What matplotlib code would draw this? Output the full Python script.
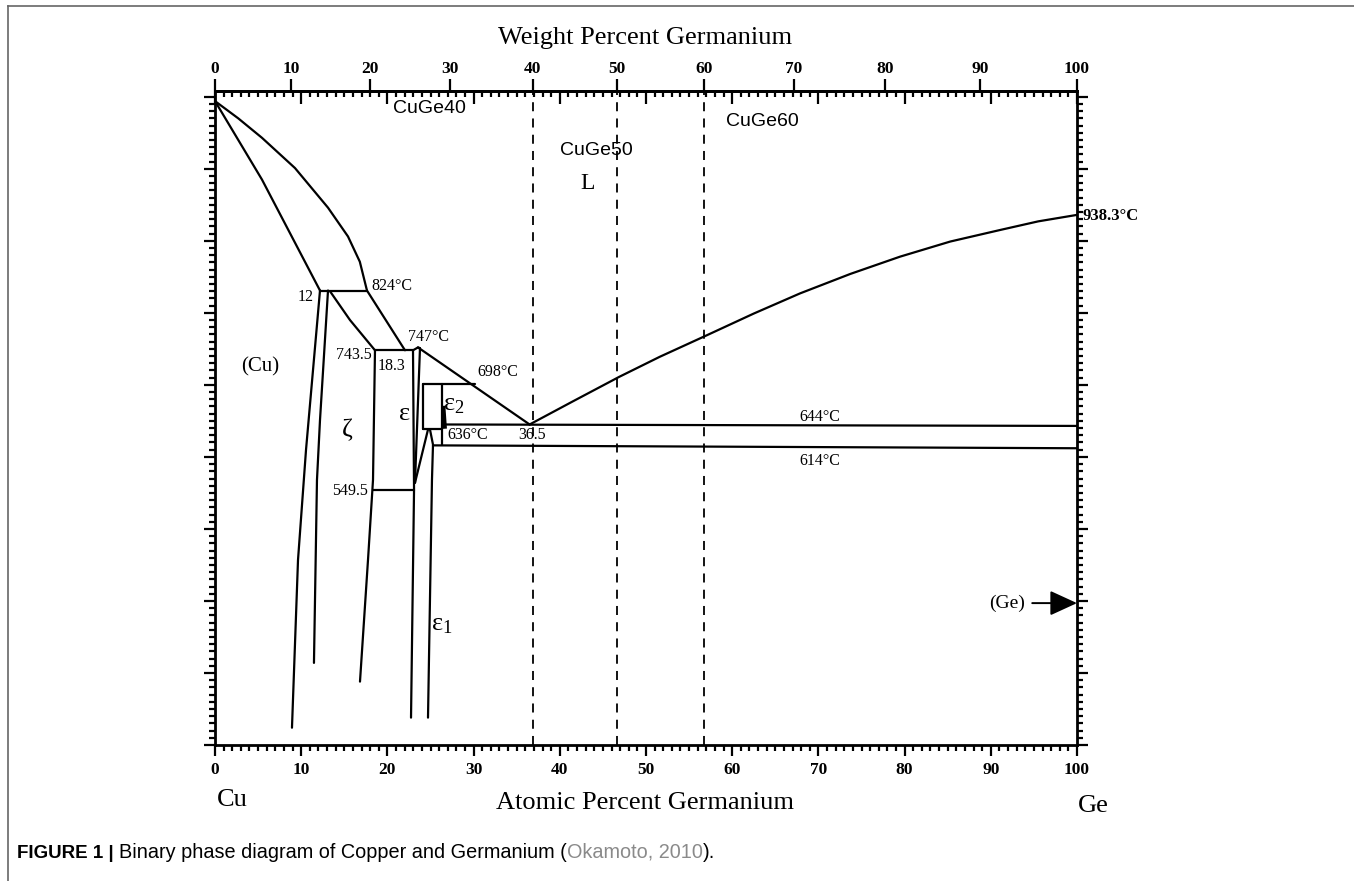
import numpy as np
import matplotlib.pyplot as plt
from matplotlib.ticker import MultipleLocator

plt.rcParams['font.family'] = ['Liberation Serif', 'DejaVu Serif']

# --- molar masses for the at.% <-> wt.% top scale ---
M_CU, M_GE = 63.546, 72.63

# --- phase boundaries: x = at.% Ge, t = deg C ---
liq_cu_x = [0, 2.7, 5.45, 9.28, 13.11, 15.43, 16.8, 17.63]
liq_cu_t = [1094, 1070, 1043, 1001, 946, 906, 871, 831]
sol_cu_x = [0, 5.45, 12.18]
sol_cu_t = [1094, 985, 831]
per824_x = [12.18, 17.63]
per824_t = [831, 831]
liq_mid_x = [17.63, 22.04]
liq_mid_t = [831, 748]
cu_solvus_x = [12.18, 10.56, 9.63, 8.93]
cu_solvus_t = [831, 610, 457, 224]
zeta_left_x = [13.11, 12.18, 11.83, 11.48]
zeta_left_t = [831, 651, 568, 314]
zeta_top_x = [13.34, 15.66, 18.56]
zeta_top_t = [830, 790, 748]
zeta_right_x = [18.56, 18.33, 17.75, 16.82]
zeta_right_t = [748, 568, 457, 288]
per743_x = [18.56, 22.97]
per743_t = [748, 748]
eps_cap_x = [22.97, 23.55, 23.78]
eps_cap_t = [748, 752, 751]
eps_left_x = [22.97, 23.09, 22.74]
eps_left_t = [748, 554, 238]
eps_right_x = [23.78, 23.2]
eps_right_t = [751, 564]
eps1_left_x = [23.2, 24.71]
eps1_left_t = [564, 638]
eps1_right_x = [24.94, 25.29, 25.17, 24.71]
eps1_right_t = [638, 617, 568, 238]
eut_liq_x = [23.55, 36.5]
eut_liq_t = [752, 645]
ge_liq_x = [36.5, 41.5, 46.87, 51.6, 57.08, 62.5, 67.87, 73.7, 79.47, 85.3, 91.07, 95.5, 100]
ge_liq_t = [645, 677, 711, 739, 769, 799, 827, 854, 878, 899, 915, 927, 936]
h698_x = [24.13, 30.16]
h698_t = [701, 701]
v_eps_x = [24.13, 24.13]
v_eps_t = [701, 639]
v_eps2_x = [26.33, 26.33]
v_eps2_t = [701, 617]
eps2_x = [26.5, 26.65]
eps2_t = [668, 642]
h636_x = [24.13, 26.33]
h636_t = [639, 639]
h644_x = [26.45, 100]
h644_t = [645, 643]
h614_x = [25.29, 100]
h614_t = [616, 612]
h549_x = [18.33, 23.09]
h549_t = [554, 554]

# dashed alloy lines (wt.% Ge)
alloy_wt = [40, 50, 60]
alloy_names = ['CuGe40', 'CuGe50', 'CuGe60']
alloy_lbl_x = [24.9, 44.3, 63.5]
alloy_lbl_t = [1084, 1025, 1065]


def at2wt(a):
    a = np.asarray(a, float)
    return 100 * a * M_GE / (a * M_GE + (100 - a) * M_CU)


def wt2at(w):
    w = np.asarray(w, float)
    return 100 * (w / M_GE) / (w / M_GE + (100 - w) / M_CU)


W, H = 1354, 881
fig = plt.figure(figsize=(W / 100, H / 100), dpi=100)
ax = fig.add_axes([215 / W, 1 - 745 / H, (1077 - 215) / W, (745 - 91) / H])
ax.set_xlim(0, 100)
ax.set_ylim(200, 1108)

lw = 1.6
segs = [
    (liq_cu_x, liq_cu_t), (sol_cu_x, sol_cu_t), (per824_x, per824_t),
    (liq_mid_x, liq_mid_t), (cu_solvus_x, cu_solvus_t), (zeta_left_x, zeta_left_t),
    (zeta_top_x, zeta_top_t), (zeta_right_x, zeta_right_t), (per743_x, per743_t),
    (eps_cap_x, eps_cap_t), (eps_left_x, eps_left_t), (eps_right_x, eps_right_t),
    (eps1_left_x, eps1_left_t), (eps1_right_x, eps1_right_t), (eut_liq_x, eut_liq_t),
    (ge_liq_x, ge_liq_t), (h698_x, h698_t), (v_eps_x, v_eps_t), (v_eps2_x, v_eps2_t),
    (h636_x, h636_t), (h644_x, h644_t), (h614_x, h614_t), (h549_x, h549_t),
]
for xs, ts in segs:
    ax.plot(xs, ts, color='black', lw=lw, solid_capstyle='round')
ax.plot(eps2_x, eps2_t, color='black', lw=3)

for w in alloy_wt:
    ax.axvline(float(wt2at(w)), color='black', lw=1.3, ls=(0, (5, 4)))
for name, x, t in zip(alloy_names, alloy_lbl_x, alloy_lbl_t):
    ax.text(x, t, name, family='Liberation Sans', fontsize=14, ha='center', va='center')

# phase-diagram annotations
fs = 11.5
ax.text(11.4, 822, '12', fontsize=fs, ha='right', va='center')
ax.text(18.1, 837, '824°C', fontsize=fs, ha='left', va='center')
ax.text(22.4, 767, '747°C', fontsize=fs, ha='left', va='center')
ax.text(18.2, 742, '743.5', fontsize=fs, ha='right', va='center')
ax.text(18.9, 726, '18.3', fontsize=fs, ha='left', va='center')
ax.text(5.3, 725, '(Cu)', fontsize=15, ha='center', va='center')
ax.text(30.4, 718, '698°C', fontsize=fs, ha='left', va='center')
ax.text(26.5, 672, r'$\mathregular{ε_2}$', fontsize=19, ha='left', va='center')
ax.text(22.0, 660, 'ε', fontsize=19, ha='center', va='center')
ax.text(15.3, 637, 'ζ', fontsize=19, ha='center', va='center')
ax.text(26.9, 631, '636°C', fontsize=fs, ha='left', va='center')
ax.text(36.8, 631, '36.5', fontsize=fs, ha='center', va='center')
ax.text(70.2, 656, '644°C', fontsize=fs, ha='center', va='center')
ax.text(70.2, 594, '614°C', fontsize=fs, ha='center', va='center')
ax.text(17.75, 553, '549.5', fontsize=fs, ha='right', va='center')
ax.text(25.1, 366, r'$\mathregular{ε_1}$', fontsize=19, ha='left', va='center')
ax.text(43.2, 979, 'L', fontsize=17, ha='center', va='center')
ax.text(100.6, 935, '938.3°C', fontsize=12, fontweight='bold', ha='left', va='center',
        clip_on=False)
ax.annotate('(Ge)', xy=(100, 397), xytext=(94.0, 397), fontsize=14, ha='right', va='center',
            arrowprops=dict(arrowstyle='-|>,head_length=1.2,head_width=0.55',
                            color='black', lw=1.4, shrinkA=3, shrinkB=0))

# axes styling
for s in ax.spines.values():
    s.set_linewidth(2)
ax.xaxis.set_major_locator(MultipleLocator(10))
ax.xaxis.set_minor_locator(MultipleLocator(1))
ax.yaxis.set_major_locator(MultipleLocator(100))
ax.yaxis.set_minor_locator(MultipleLocator(10))
ax.tick_params(which='both', direction='out', top=False, right=True, left=True,
               labelleft=False, width=1.6)
ax.tick_params(which='major', length=8)
ax.tick_params(which='minor', length=4)
ax.tick_params(axis='x', which='major', labelsize=12.5, pad=4)
ax.set_xticks(range(0, 101, 10), labels=[str(v) for v in range(0, 101, 10)],
              fontweight='bold')

# at.% ticks along the top edge, pointing inward
at_top = ax.secondary_xaxis('top')
at_top.xaxis.set_major_locator(MultipleLocator(10))
at_top.xaxis.set_minor_locator(MultipleLocator(1))
at_top.tick_params(which='both', direction='in', labeltop=False, width=1.6)
at_top.tick_params(which='major', length=9)
at_top.tick_params(which='minor', length=4)
at_top.spines['top'].set_linewidth(2)

# wt.% scale on top
wt_ax = ax.secondary_xaxis('top', functions=(at2wt, wt2at))
wt_ticks = list(range(0, 101, 10))
wt_ax.set_xticks(wt_ticks, labels=[str(v) for v in wt_ticks], fontweight='bold')
wt_ax.tick_params(which='major', direction='out', length=9, width=1.6,
                  labelsize=12.5, pad=1)
wt_ax.xaxis.set_minor_locator(plt.NullLocator())
wt_ax.spines['top'].set_linewidth(2)

fig.text(645 / W, 1 - 38 / H, 'Weight Percent Germanium', fontsize=19,
         ha='center', va='center')
fig.text(645 / W, 1 - 803 / H, 'Atomic Percent Germanium', fontsize=19,
         ha='center', va='center')
fig.text(232 / W, 1 - 800 / H, 'Cu', fontsize=19, ha='center', va='center')
fig.text(1093 / W, 1 - 806 / H, 'Ge', fontsize=19, ha='center', va='center')

# caption
base_y = 1 - 858 / H
cap = fig.text(17 / W, base_y, 'FIGURE 1 | ', family='Liberation Sans',
               fontweight='bold', fontsize=13.5, ha='left', va='baseline')
fig.canvas.draw()
r = fig.canvas.get_renderer()
x_next = cap.get_window_extent(r).x1
for piece, col in [('Binary phase diagram of Copper and Germanium (', 'black'),
                   ('Okamoto, 2010', '#8a8a8a'), (').', 'black')]:
    t = fig.text(x_next / W, base_y, piece, family='Liberation Sans', fontsize=14.3,
                 color=col, va='baseline')
    x_next = t.get_window_extent(r).x1

# thin frame around the panel
fig.add_artist(plt.Line2D([8 / W, 8 / W], [0, 1 - 6 / H], transform=fig.transFigure,
                          color='#666666', lw=1.2))
fig.add_artist(plt.Line2D([8 / W, 1], [1 - 6 / H, 1 - 6 / H], transform=fig.transFigure,
                          color='#666666', lw=1.2))

fig.savefig('out.png', dpi=100)
